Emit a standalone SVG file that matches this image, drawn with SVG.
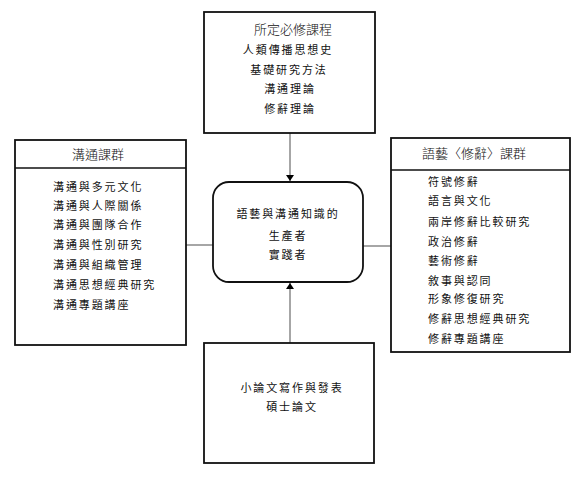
<svg xmlns="http://www.w3.org/2000/svg" width="577" height="477" viewBox="0 0 577 477">
<defs>
<marker id="arr" markerWidth="8" markerHeight="8" refX="6" refY="4" orient="auto" markerUnits="userSpaceOnUse">
<path d="M0,0 L6,4 L0,8 Z" fill="#000"/>
</marker>
<style>
.box{fill:#fff;stroke:#111;stroke-width:1.8}
.conn{stroke:#888;stroke-width:1.5;fill:none}
text{font-family:"Noto Sans CJK TC","Noto Sans CJK SC",sans-serif;font-size:11px;fill:#111;letter-spacing:1.9px}
.t{font-size:13px;letter-spacing:0;font-weight:300}
.c{text-anchor:middle}
</style>
</defs>
<rect width="577" height="477" fill="#fff"/>
<g id="connectors">
<line class="conn" x1="290" y1="133" x2="290" y2="181" marker-end="url(#arr)"/>
<line class="conn" x1="290" y1="343" x2="290" y2="283" marker-end="url(#arr)"/>
<line class="conn" x1="186" y1="245" x2="213" y2="245"/>
<line class="conn" x1="363" y1="246" x2="391" y2="246"/>
</g>
<g id="node-required">
<rect class="box" x="204" y="12" width="171" height="121"/>
<text class="c t" x="293" y="34">所定必修課程</text>
<text class="c" x="288" y="54">人類傳播思想史</text>
<text class="c" x="289" y="74">基礎研究方法</text>
<text class="c" x="290" y="93">溝通理論</text>
<text class="c" x="290" y="113">修辭理論</text>
</g>
<g id="node-communication">
<rect class="box" x="15" y="140" width="171" height="205"/>
<line x1="15" y1="168" x2="186" y2="168" stroke="#111" stroke-width="1.5"/>
<text class="c t" x="98" y="159">溝通課群</text>
<text x="53" y="191">溝通與多元文化</text>
<text x="53" y="210">溝通與人際關係</text>
<text x="53" y="229">溝通與團隊合作</text>
<text x="53" y="249">溝通與性別研究</text>
<text x="53" y="269">溝通與組織管理</text>
<text x="53" y="289">溝通思想經典研究</text>
<text x="53" y="309">溝通專題講座</text>
</g>
<g id="node-rhetoric">
<rect class="box" x="391" y="138" width="179" height="214"/>
<line x1="391" y1="170" x2="570" y2="170" stroke="#111" stroke-width="1.5"/>
<text class="c t" x="474" y="158">語藝〈修辭〉課群</text>
<text x="428" y="186">符號修辭</text>
<text x="428" y="205">語言與文化</text>
<text x="428" y="226">兩岸修辭比較研究</text>
<text x="428" y="246">政治修辭</text>
<text x="428" y="265">藝術修辭</text>
<text x="428" y="285">敘事與認同</text>
<text x="428" y="303">形象修復研究</text>
<text x="428" y="323">修辭思想經典研究</text>
<text x="428" y="343">修辭專題講座</text>
</g>
<g id="node-center">
<rect class="box" x="213" y="182" width="150" height="100" rx="16" ry="16"/>
<text class="c" x="288" y="218">語藝與溝通知識的</text>
<text class="c" x="288" y="240">生產者</text>
<text class="c" x="288" y="259">實踐者</text>
</g>
<g id="node-thesis">
<rect class="box" x="204" y="343" width="170" height="120"/>
<text class="c" x="292" y="392">小論文寫作與發表</text>
<text class="c" x="292" y="411">碩士論文</text>
</g>
</svg>
